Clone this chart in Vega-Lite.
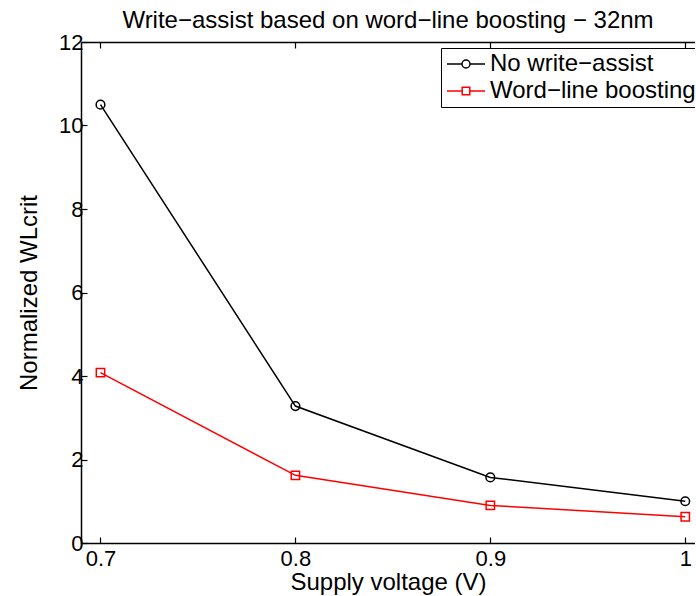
{
  "$schema": "https://vega.github.io/schema/vega-lite/v6.json",
  "width": 614,
  "height": 501,
  "autosize": "none",
  "padding": {"left": 81, "top": 42, "right": 0, "bottom": 53},
  "background": "white",
  "config": {
    "view": {"stroke": null},
    "font": "Liberation Sans",
    "axis": {
      "grid": false,
      "domainColor": "#000000",
      "domainWidth": 1.5,
      "tickColor": "#000000",
      "tickWidth": 1.2,
      "tickSize": -6,
      "labelColor": "#000000",
      "labelFont": "Liberation Sans",
      "labelFontSize": 22,
      "titleFont": "Liberation Sans",
      "titleFontSize": 24,
      "titleFontWeight": "normal",
      "titleColor": "#000000"
    },
    "title": {"font": "Liberation Sans", "fontSize": 24, "fontWeight": "normal", "color": "#000000"}
  },
  "title": {"text": "Write−assist based on word−line boosting − 32nm", "offset": -2, "anchor": "middle"},
  "data": {
    "values": [
      {"series": "No write−assist", "v": 0.7, "wl": 10.5},
      {"series": "No write−assist", "v": 0.8, "wl": 3.28},
      {"series": "No write−assist", "v": 0.9, "wl": 1.57},
      {"series": "No write−assist", "v": 1.0, "wl": 1.0},
      {"series": "Word−line boosting", "v": 0.7, "wl": 4.08},
      {"series": "Word−line boosting", "v": 0.8, "wl": 1.62},
      {"series": "Word−line boosting", "v": 0.9, "wl": 0.9},
      {"series": "Word−line boosting", "v": 1.0, "wl": 0.63}
    ]
  },
  "resolve": {"axis": {"x": "independent"}},
  "layer": [
    {
      "mark": {"type": "line", "strokeWidth": 1.5},
      "encoding": {
        "x": {
          "field": "v", "type": "quantitative",
          "scale": {"domain": [0.69, 1.005], "nice": false, "zero": false},
          "axis": {"values": [0.7, 0.8, 0.9, 1.0], "format": ".1~f", "title": "Supply voltage (V)", "labelPadding": 11, "titlePadding": 1}
        },
        "y": {
          "field": "wl", "type": "quantitative",
          "scale": {"domain": [0, 12], "nice": false},
          "axis": {"values": [0, 2, 4, 6, 8, 10, 12], "title": "Normalized WLcrit", "labelPadding": 4, "titlePadding": 17}
        },
        "color": {
          "field": "series", "type": "nominal",
          "scale": {"domain": ["No write−assist", "Word−line boosting"], "range": ["#000000", "#ff0000"]},
          "legend": {
            "title": null,
            "orient": "none",
            "legendX": 360,
            "legendY": 6,
            "fillColor": "white",
            "strokeColor": "#000000",
            "padding": 4,
            "labelFont": "Liberation Sans",
            "labelFontSize": 24,
            "labelColor": "#000000",
            "labelOffset": 12,
            "symbolOffset": 9,
            "rowPadding": 3,
            "symbolSize": 400,
            "symbolStrokeWidth": 1.5,
            "labelLimit": 400,
            "encode": {
              "symbols": {
                "update": {
                  "shape": {"signal": "datum.index === 0 ? 'M-1.9,0H-0.4M0.4,0H1.9M-0.4,0A0.4,0.4 0 1,0 0.4,0A0.4,0.4 0 1,0 -0.4,0' : 'M-1.9,0H-0.38M0.38,0H1.9M-0.38,-0.38H0.38V0.38H-0.38Z'"}
                }
              }
            }
          }
        }
      }
    },
    {
      "transform": [{"filter": "datum.series === 'No write−assist'"}],
      "mark": {"type": "point", "shape": "circle", "filled": false, "strokeWidth": 1.5, "size": 75, "opacity": 1},
      "encoding": {
        "x": {"field": "v", "type": "quantitative", "axis": {"orient": "top", "values": [0.7, 0.8, 0.9, 1.0], "labels": false, "title": null}},
        "y": {"field": "wl", "type": "quantitative"},
        "color": {"field": "series", "type": "nominal"}
      }
    },
    {
      "transform": [{"filter": "datum.series === 'Word−line boosting'"}],
      "mark": {"type": "point", "shape": "square", "filled": false, "strokeWidth": 1.5, "size": 70, "opacity": 1},
      "encoding": {
        "x": {"field": "v", "type": "quantitative", "axis": null},
        "y": {"field": "wl", "type": "quantitative"},
        "color": {"field": "series", "type": "nominal"}
      }
    }
  ]
}
